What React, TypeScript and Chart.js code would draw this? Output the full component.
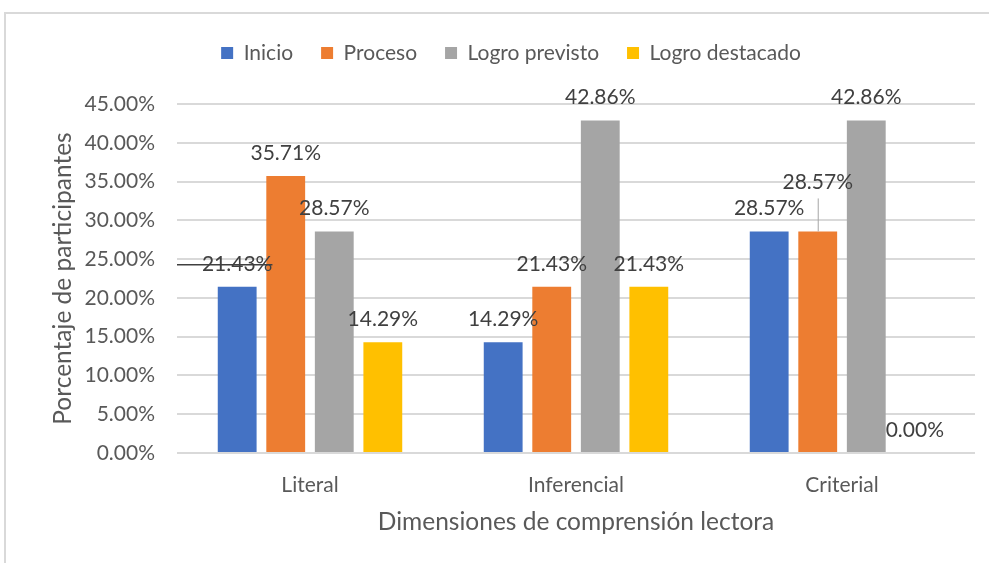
import React, { useEffect, useRef } from "react";
import { Chart, registerables } from "chart.js";

Chart.register(...registerables);

const categories = ["Literal", "Inferencial", "Criterial"];
const seriesNames = ["Inicio", "Proceso", "Logro previsto", "Logro destacado"];
const inicio = [21.43, 14.29, 28.57];
const proceso = [35.71, 21.43, 28.57];
const logroPrevisto = [28.57, 42.86, 42.86];
const logroDestacado = [14.29, 21.43, 0.0];
const seriesColors = ["#4472C4", "#ED7D31", "#A5A5A5", "#FFC000"];
const yMin = 0;
const yMax = 45;
const yStep = 5;
const xTitle = "Dimensiones de comprensión lectora";
const yTitle = "Porcentaje de participantes";

const FONT = "Lato, 'Noto Sans', sans-serif";
const TEXT = "#595959";
const LABEL_TEXT = "#404040";
const GRID = "#d9d9d9";

// label placement (style, not data)
const LABEL_LIFT = 23;
const labelTweaks: Record<string, { lift?: number; leader?: "vertical" | "horizontal" }> = {
  "0-0": { leader: "horizontal" },
  "1-2": { lift: 49, leader: "vertical" },
};

const fmt = (v: number) => v.toFixed(2) + "%";

const framePlugin = {
  id: "frame",
  beforeDraw(chart: any) {
    const { ctx, width, height } = chart;
    ctx.save();
    ctx.fillStyle = "#ffffff";
    ctx.fillRect(0, 0, width, height);
    ctx.strokeStyle = "#d9d9d9";
    ctx.lineWidth = 2;
    ctx.strokeRect(5, 13, width + 50, height + 50);
    ctx.restore();
  },
};

const legendSpacer = {
  id: "legendSpacer",
  beforeLayout(chart: any) {
    const lg = chart.legend;
    if (lg && !lg.__patched) {
      const orig = lg.fit.bind(lg);
      lg.fit = function () {
        orig();
        this.height += 30.5;
      };
      lg.__patched = true;
    }
  },
};

const labelPlugin = {
  id: "barLabels",
  afterDatasetsDraw(chart: any) {
    const { ctx, chartArea } = chart;
    ctx.save();
    ctx.font = `21px ${FONT}`;
    ctx.textAlign = "center";
    ctx.textBaseline = "middle";
    chart.data.datasets.forEach((ds: any, i: number) => {
      const meta = chart.getDatasetMeta(i);
      meta.data.forEach((bar: any, j: number) => {
        const v = ds.data[j] as number;
        const tw = labelTweaks[`${i}-${j}`] || {};
        const lift = tw.lift ?? LABEL_LIFT;
        const x = bar.x;
        const y = bar.y - lift;
        const text = fmt(v);
        ctx.fillStyle = LABEL_TEXT;
        ctx.fillText(text, x, y);
        if (tw.leader === "vertical") {
          ctx.strokeStyle = "#a6a6a6";
          ctx.lineWidth = 1;
          ctx.beginPath();
          ctx.moveTo(x + 0.5, y + 16);
          ctx.lineTo(x + 0.5, bar.y);
          ctx.stroke();
        } else if (tw.leader === "horizontal") {
          const w = ctx.measureText(text).width;
          ctx.strokeStyle = "#404040";
          ctx.lineWidth = 1.5;
          ctx.beginPath();
          ctx.moveTo(chartArea.left, y + 1);
          ctx.lineTo(x + w / 2, y + 1);
          ctx.stroke();
        }
      });
    });
    ctx.restore();
  },
};

export default function App() {
  const ref = useRef<HTMLCanvasElement | null>(null);

  useEffect(() => {
    if (!ref.current) return;
    const seriesValues = [inicio, proceso, logroPrevisto, logroDestacado];
    const chart = new Chart(ref.current, {
      type: "bar",
      data: {
        labels: categories,
        datasets: seriesNames.map((name, i) => ({
          label: name,
          data: seriesValues[i],
          backgroundColor: seriesColors[i],
          borderWidth: 0,
          categoryPercentage: 0.73,
          barPercentage: 0.8,
        })),
      },
      options: {
        responsive: false,
        animation: false,
        devicePixelRatio: 1,
        layout: { padding: { top: 14.5, left: 47, right: 14, bottom: 0 } },
        plugins: {
          legend: {
            position: "top",
            labels: {
              boxWidth: 12,
              boxHeight: 12,
              padding: 28,
              color: TEXT,
              font: { family: FONT, size: 21 },
            },
          },
          tooltip: { enabled: false },
        },
        scales: {
          x: {
            grid: { display: false, drawTicks: false },
            border: { display: false },
            ticks: { color: TEXT, font: { family: FONT, size: 21 }, padding: 20 },
            title: {
              display: true,
              text: xTitle,
              color: TEXT,
              font: { family: FONT, size: 24.5 },
              padding: { top: 0, bottom: 26 },
            },
            afterFit(scale: any) {
              scale.height = 110;
            },
          },
          y: {
            min: yMin,
            max: yMax,
            ticks: {
              stepSize: yStep,
              color: TEXT,
              font: { family: FONT, size: 21 },
              padding: 22,
              callback: (v: any) => fmt(Number(v)),
            },
            grid: { color: GRID, lineWidth: 2, drawTicks: false },
            border: { display: false },
            title: {
              display: true,
              text: yTitle,
              color: TEXT,
              font: { family: FONT, size: 24.5 },
              padding: { top: 1, bottom: 0 },
            },
            afterFit(scale: any) {
              scale.width = 130;
            },
          },
        },
      },
      plugins: [framePlugin, legendSpacer, labelPlugin],
    });
    return () => chart.destroy();
  }, []);

  return (
    <div style={{ position: "fixed", left: 0, top: 0, width: 989, height: 563, overflow: "hidden" }}>
      <canvas ref={ref} width={989} height={563} style={{ display: "block" }} />
    </div>
  );
}
